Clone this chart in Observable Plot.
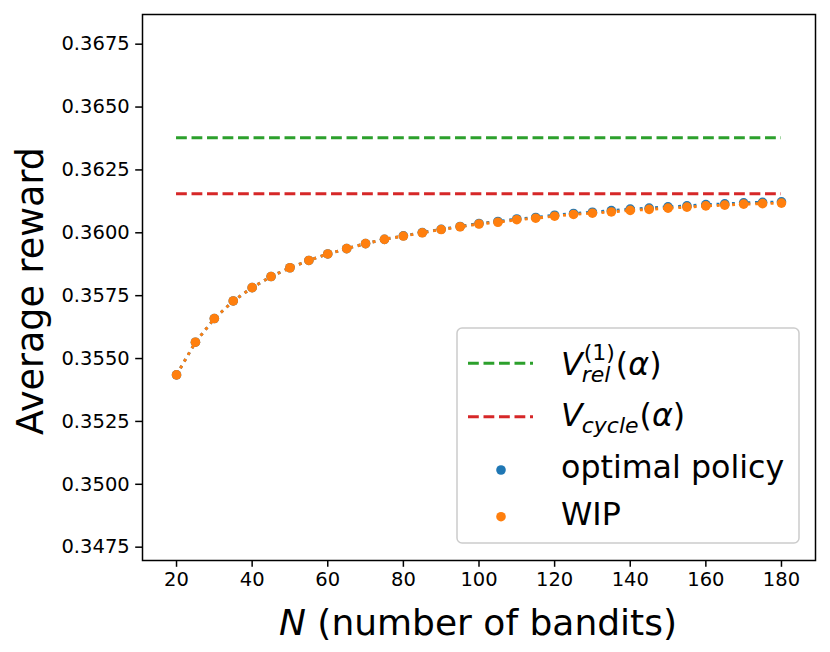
<!DOCTYPE html>
<html>
<head>
<meta charset="utf-8">
<script src="https://cdn.jsdelivr.net/npm/d3@7"></script>
<script src="https://cdn.jsdelivr.net/npm/@observablehq/plot@0.6"></script>
<style>
  html, body { margin: 0; padding: 0; background: #fff; }
  svg { display: block; }
</style>
</head>
<body>
<div id="chart"></div>
<script>
// ---- data ----
const N = [20,25,30,35,40,45,50,55,60,65,70,75,80,85,90,95,100,105,110,115,120,125,130,135,140,145,150,155,160,165,170,175,180];
const wip = [0.35435,0.35565,0.35659,0.35729,0.35782,0.35826,0.35861,0.35890,0.35916,0.35937,0.35957,0.35974,0.35987,0.36000,0.36013,0.36024,0.36035,0.36042,0.36052,0.36058,0.36066,0.36073,0.36078,0.36083,0.36089,0.36093,0.36098,0.36102,0.36107,0.36110,0.36114,0.36116,0.36118];
const optimal = [0.35435,0.35565,0.35659,0.35729,0.35782,0.35826,0.35861,0.35890,0.35916,0.35937,0.35957,0.35974,0.35988,0.36001,0.36014,0.36025,0.36037,0.36045,0.36055,0.36061,0.36070,0.36077,0.36082,0.36088,0.36094,0.36098,0.36103,0.36107,0.36112,0.36115,0.36119,0.36121,0.36123];
const vRel = 0.36378;
const vCycle = 0.36155;
const xTicks = [20,40,60,80,100,120,140,160,180];
const yTicks = [0.3475,0.3500,0.3525,0.3550,0.3575,0.3600,0.3625,0.3650,0.3675];

const C = {blue: "#1f77b4", orange: "#ff7f0e", green: "#2ca02c", red: "#d62728"};

const optData = N.map((n, i) => ({n, v: optimal[i]}));
const wipData = N.map((n, i) => ({n, v: wip[i]}));

const lw = 2.9;
const dashed = "10.8,4.7";
const dotted = "2.9,4.8";

const plot = Plot.plot({
  width: 830,
  height: 652,
  marginLeft: 142,
  marginRight: 15,
  marginTop: 14,
  marginBottom: 92,
  style: {fontFamily: "DejaVu Sans", fontSize: "19.5px", color: "#000", background: "#fff"},
  x: {domain: [11, 189], ticks: xTicks, tickSize: 6.8, tickPadding: 5, label: null},
  y: {domain: [0.34697, 0.36868], ticks: yTicks, tickFormat: d3.format(".4f"), tickSize: 6.8, tickPadding: 6, label: null},
  marks: [
    Plot.ruleY([vRel], {x1: N[0], x2: N[N.length - 1], stroke: C.green, strokeWidth: lw, strokeDasharray: dashed, strokeLinecap: "butt"}),
    Plot.ruleY([vCycle], {x1: N[0], x2: N[N.length - 1], stroke: C.red, strokeWidth: lw, strokeDasharray: dashed, strokeLinecap: "butt"}),
    Plot.line(optData, {x: "n", y: "v", stroke: C.blue, strokeWidth: lw, strokeDasharray: dotted, strokeLinecap: "butt"}),
    Plot.dot(optData, {x: "n", y: "v", r: 4.8, fill: C.blue, stroke: "none"}),
    Plot.line(wipData, {x: "n", y: "v", stroke: C.orange, strokeWidth: lw, strokeDasharray: dotted, strokeLinecap: "butt"}),
    Plot.dot(wipData, {x: "n", y: "v", r: 4.8, fill: C.orange, stroke: "none"}),
    Plot.axisX({ticks: xTicks, tickSize: 6.8, tickPadding: 5, strokeWidth: 1.5, label: null}),
    Plot.axisY({ticks: yTicks, tickFormat: d3.format(".4f"), tickSize: 6.8, tickPadding: 6, strokeWidth: 1.5, label: null}),
    Plot.frame({stroke: "#000", strokeWidth: 1.5})
  ]
});
document.getElementById("chart").appendChild(plot);

const svg = d3.select(plot);
const FF = "DejaVu Sans";

// axis titles
svg.append("text")
  .attr("transform", "translate(43,291) rotate(-90)")
  .attr("text-anchor", "middle")
  .attr("font-family", FF).attr("font-size", 36.5).attr("fill", "#000")
  .text("Average reward");

const xt = svg.append("text")
  .attr("x", 478).attr("y", 635)
  .attr("text-anchor", "middle")
  .attr("font-family", FF).attr("font-size", 36).attr("fill", "#000");
xt.append("tspan").attr("font-style", "italic").text("N");
xt.append("tspan").text(" (number of bandits)");

// legend
const lg = svg.append("g").attr("text-anchor", "start");
lg.append("rect")
  .attr("x", 457).attr("y", 328).attr("width", 342).attr("height", 215)
  .attr("rx", 5).attr("fill", "#fff").attr("fill-opacity", 0.8)
  .attr("stroke", "#cccccc").attr("stroke-width", 1.5);

const legLine = (y, color) => lg.append("line")
  .attr("x1", 468).attr("x2", 533).attr("y1", y).attr("y2", y)
  .attr("stroke", color).attr("stroke-width", lw).attr("stroke-dasharray", dashed);
legLine(363.3, C.green);
legLine(416.7, C.red);

lg.append("circle").attr("cx", 501).attr("cy", 470).attr("r", 4.8).attr("fill", C.blue);
lg.append("circle").attr("cx", 501).attr("cy", 516.7).attr("r", 4.8).attr("fill", C.orange);

const LF = 31.7, SF = 22;
function txt(x, y, s, size, italic) {
  const t = lg.append("text").attr("x", x).attr("y", y)
    .attr("text-anchor", "start")
    .attr("font-family", FF).attr("font-size", size).attr("fill", "#000")
    .attr("font-style", italic ? "italic" : "normal").text(s);
  return t;
}
function w(t) { return t.node().getComputedTextLength(); }

// V_rel^(1)(α)
{
  const base = 375;
  const V = txt(561, base, "V", LF, true);
  const x1 = 561 + w(V) + 1;
  const sup = txt(x1, base - 15, "(1)", SF, false);
  const sub = txt(x1 - 2, base + 7, "rel", SF, true);
  const x2 = x1 + Math.max(w(sup), w(sub)) + 1;
  const p1 = txt(x2, base, "(", LF, false);
  const a = txt(x2 + w(p1), base, "α", LF, true);
  txt(x2 + w(p1) + w(a), base, ")", LF, false);
}
// V_cycle(α)
{
  const base = 426;
  const V = txt(561, base, "V", LF, true);
  const x1 = 561 + w(V) - 1;
  const sub = txt(x1, base + 7, "cycle", SF, true);
  const x2 = x1 + w(sub) + 1;
  const p1 = txt(x2, base, "(", LF, false);
  const a = txt(x2 + w(p1), base, "α", LF, true);
  txt(x2 + w(p1) + w(a), base, ")", LF, false);
}
txt(561, 478, "optimal policy", LF, false);
txt(561, 525, "WIP", LF, false);
</script>
</body>
</html>
